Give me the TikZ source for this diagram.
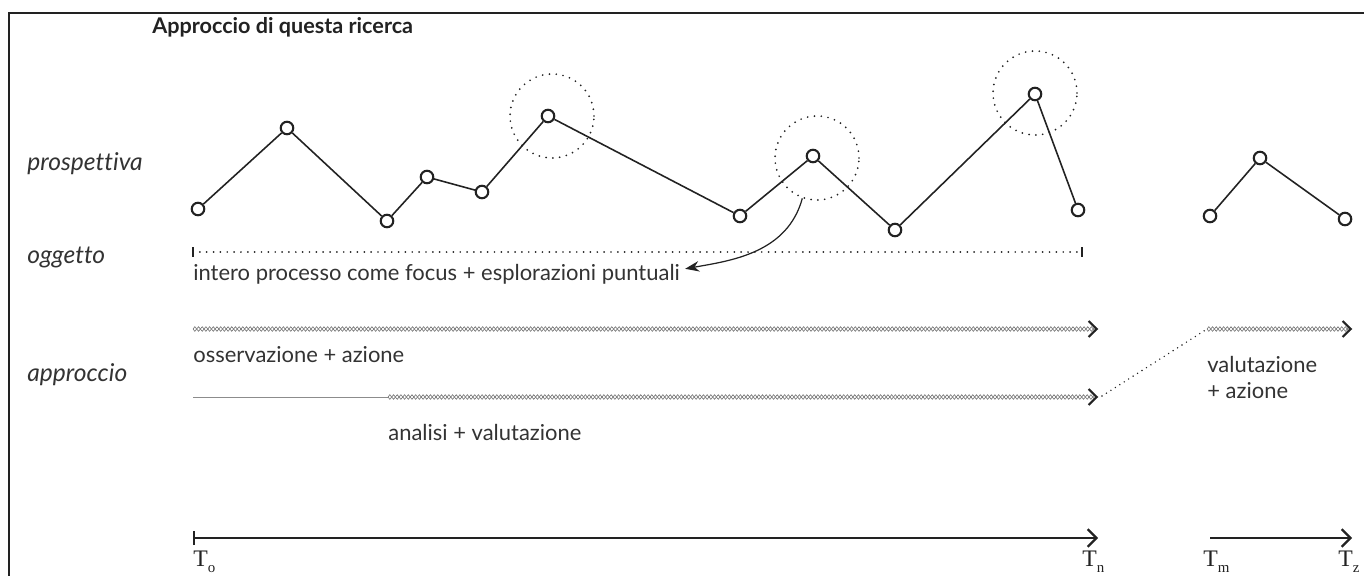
\documentclass[tikz,border=0pt]{standalone}
\usepackage{fontspec}
\setmainfont{Lato}[Ligatures=NoCommon]
\newfontfamily\timefont{Liberation Serif}
\usetikzlibrary{arrows.meta,decorations.pathmorphing,calc}
\definecolor{ink}{HTML}{222222}
\definecolor{txt}{HTML}{333333}
\tikzset{
  point/.style={circle, draw=ink, fill=white, line width=1.2pt, minimum size=0.25cm, inner sep=0pt},
  trend/.style={draw=ink, line width=0.9pt},
  dots/.style={draw=ink, line width=1.1pt, dash pattern=on 0pt off 3.9pt, line cap=round},
  focusring/.style={circle, dots, minimum size=1.68cm, inner sep=0pt},
  rowname/.style={anchor=base west, inner sep=0pt, text=txt, font=\fontsize{14}{16}\selectfont\itshape},
  caption/.style={anchor=base west, inner sep=0pt, text=txt, font=\fontsize{12.5}{15}\selectfont, align=left},
  timename/.style={anchor=base west, inner sep=0pt, text=ink, font=\timefont\fontsize{13.5}{15}\selectfont},
  zig/.style={draw=black!55, line width=0.35pt, decorate, decoration={zigzag, segment length=4.2pt, amplitude=1.3pt}},
  diamonds/.style={draw=none, postaction={zig}, postaction={zig, decoration={mirror}}},
  chevron/.style={draw=ink, line width=0.3pt, -{Straight Barb[length=4.5pt, width=9pt, line width=1.2pt]}},
  timeline/.style={draw=ink, line width=1.3pt, {Bar[width=8pt, line width=1.3pt]}-{Straight Barb[length=5pt, width=10pt, line width=1.3pt]}},
  timeline2/.style={draw=ink, line width=1.3pt, -{Straight Barb[length=5pt, width=10pt, line width=1.3pt]}},
  pointer/.style={draw=ink, line width=0.7pt, -{Stealth[length=8pt, width=6pt]}}
}
\newcommand{\tsub}[1]{\raisebox{-0.6ex}{\fontsize{8.5}{9}\selectfont #1}}
\begin{document}
\begin{tikzpicture}[x=0.02cm, y=-0.02cm]
  \useasboundingbox (0,0) rectangle (1364,575);
  \draw[draw=ink, line width=1.7pt] (9,590) -- (9,13) -- (1380,13);

  \node[anchor=base west, inner sep=0pt, text=ink, font=\fontsize{12.3}{14}\selectfont\bfseries] (Title) at (152,33) {Approccio di questa ricerca};
  \node[rowname] (Prospettiva) at (27,170) {prospettiva};
  \node[rowname] (Oggetto) at (27,263) {oggetto};
  \node[rowname] (Approccio) at (27,381) {approccio};

  % prospettiva
  \node[focusring] (Ring1) at (552,116) {};
  \node[focusring] (Ring2) at (817,158) {};
  \node[focusring] (Ring3) at (1035,93) {};
  \node[point] (p1) at (198,209) {};
  \node[point] (p2) at (287,128) {};
  \node[point] (p3) at (387,221) {};
  \node[point] (p4) at (427,177) {};
  \node[point] (p5) at (482,192) {};
  \node[point] (p6) at (548,116) {};
  \node[point] (p7) at (740,216) {};
  \node[point] (p8) at (813,156) {};
  \node[point] (p9) at (895,230) {};
  \node[point] (p10) at (1035,94) {};
  \node[point] (p11) at (1078,210) {};
  \node[point] (q1) at (1210,216) {};
  \node[point] (q2) at (1260,158) {};
  \node[point] (q3) at (1345,219) {};
  \draw[trend] (p1) -- (p2) -- (p3) -- (p4) -- (p5) -- (p6) -- (p7) -- (p8) -- (p9) -- (p10) -- (p11);
  \draw[trend] (q1) -- (q2) -- (q3);

  % oggetto
  \coordinate (ObjStart) at (193,252);
  \coordinate (ObjEnd) at (1082,252);
  \draw[dots] (ObjStart) -- (ObjEnd);
  \draw[draw=ink, line width=1pt] ($(ObjStart)+(0,-5)$) -- ($(ObjStart)+(0,5)$);
  \draw[draw=ink, line width=1pt] ($(ObjEnd)+(0,-5)$) -- ($(ObjEnd)+(0,5)$);
  \node[caption] (Intero) at (193,280) {intero processo come focus + esplorazioni puntuali};
  \draw[pointer] (Ring2.250) .. controls +(-15,55) and +(45,-8) .. ($(Intero.east)+(5,-5)$);

  % approccio
  \coordinate (ObsStart) at (193,329);
  \coordinate (ObsEnd) at (1098,329);
  \coordinate (AnaStart) at (193,397);
  \coordinate (AnaMid) at (388,397);
  \coordinate (AnaEnd) at (1098,397);
  \coordinate (ValStart) at (1207,329);
  \coordinate (ValEnd) at (1352,329);
  \draw[diamonds] (ObsStart) -- (ObsEnd);
  \draw[chevron] ($(ObsEnd)+(-3,0)$) -- (ObsEnd);
  \draw[draw=black!45, line width=0.5pt] (AnaStart) -- (AnaMid);
  \draw[diamonds] (AnaMid) -- (AnaEnd);
  \draw[chevron] ($(AnaEnd)+(-3,0)$) -- (AnaEnd);
  \draw[diamonds] (ValStart) -- (ValEnd);
  \draw[chevron] ($(ValEnd)+(-3,0)$) -- (ValEnd);
  \draw[dots, line width=0.9pt, dash pattern=on 0pt off 3pt] ($(AnaEnd)+(4,-1)$) -- (ValStart);
  \node[caption] (Osservazione) at (193,362) {osservazione + azione};
  \node[caption] (Analisi) at (388,440) {analisi + valutazione};
  \node[caption, anchor=north west] (Valutazione) at (1207,356) {valutazione\\+ azione};

  % tempo
  \coordinate (TStart) at (193,538);
  \coordinate (TEnd) at (1098,538);
  \coordinate (TStart2) at (1210,538);
  \coordinate (TEnd2) at (1352,538);
  \draw[timeline] (TStart) -- (TEnd);
  \draw[timeline2] (TStart2) -- (TEnd2);
  \node[timename] (To) at (193,566) {T\tsub{o}};
  \node[timename] (Tn) at (1082,566) {T\tsub{n}};
  \node[timename] (Tm) at (1203,566) {T\tsub{m}};
  \node[timename] (Tz) at (1338,566) {T\tsub{z}};
\end{tikzpicture}
\end{document}
